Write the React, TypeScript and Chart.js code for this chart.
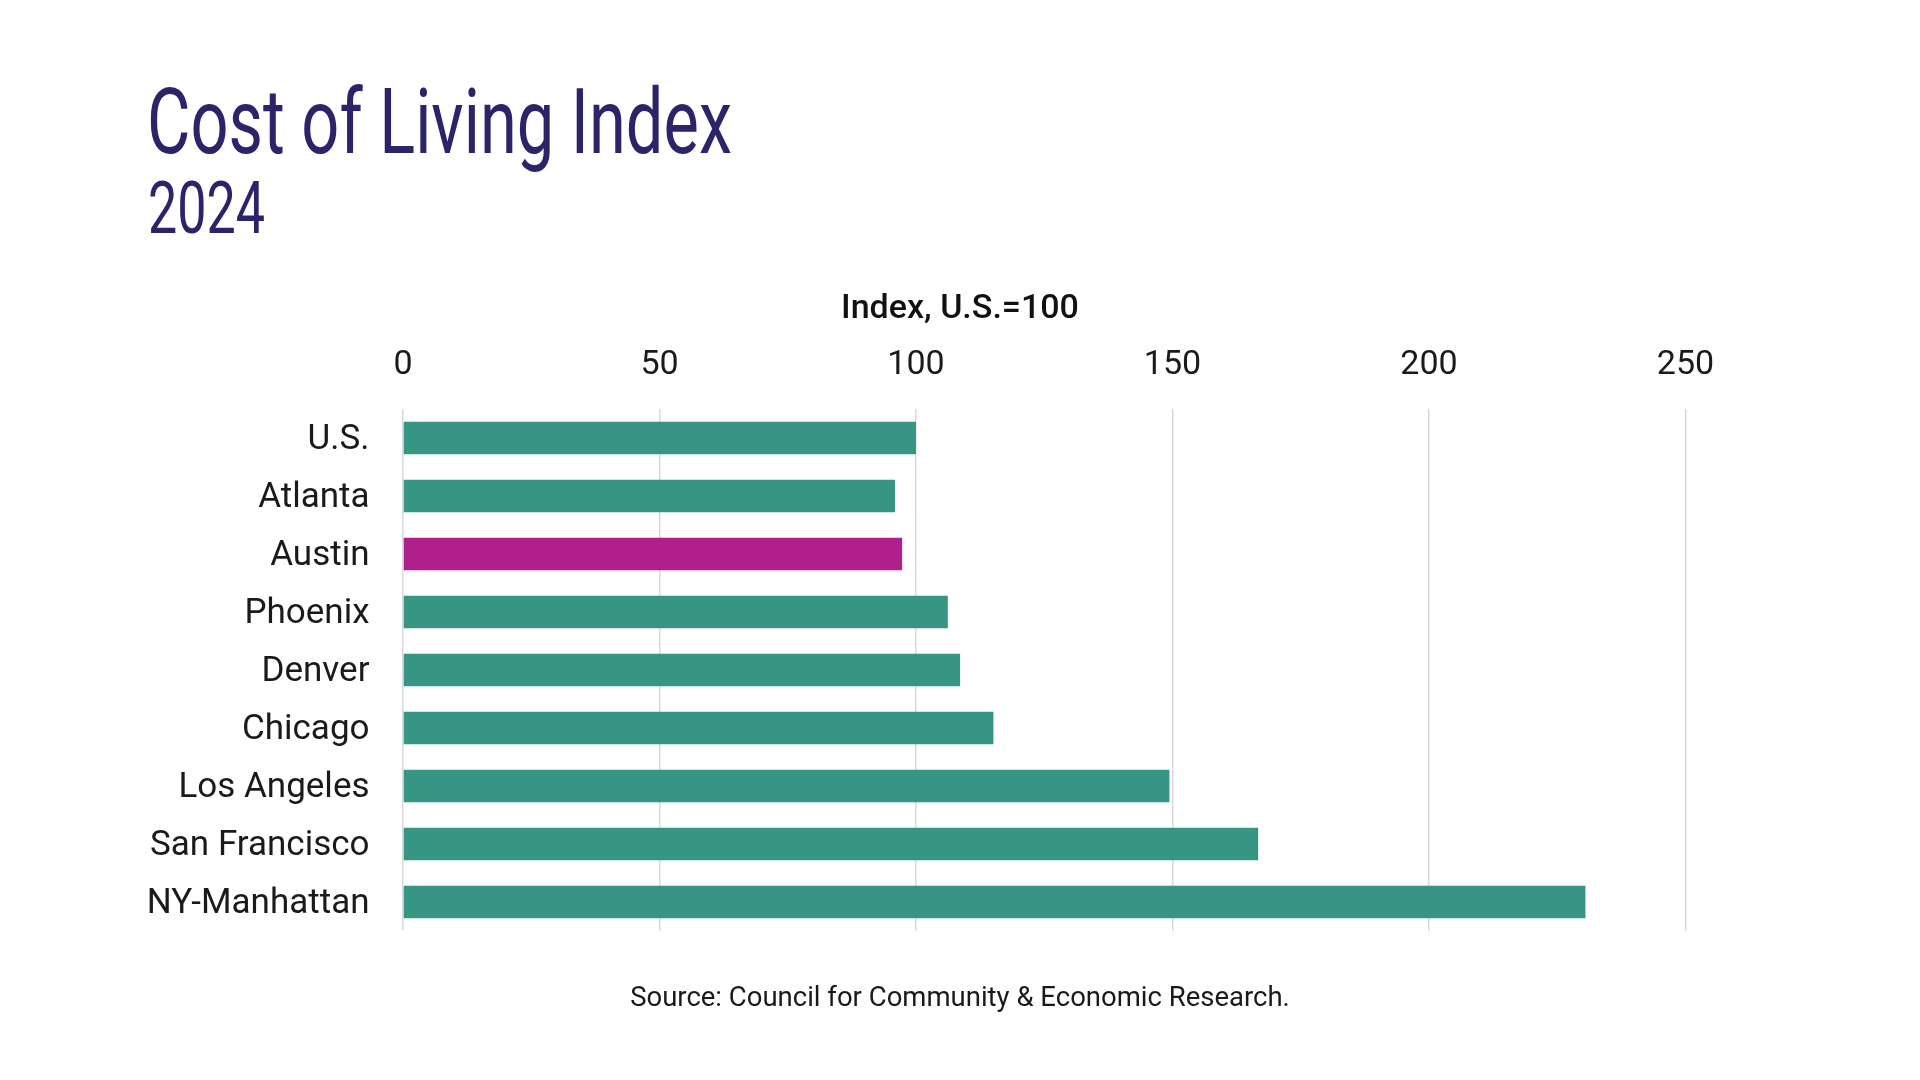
import React, { useEffect, useRef, useMemo } from "react";
import { Chart, registerables } from "chart.js";

Chart.register(...registerables);

const categories = [
  "U.S.",
  "Atlanta",
  "Austin",
  "Phoenix",
  "Denver",
  "Chicago",
  "Los Angeles",
  "San Francisco",
  "NY-Manhattan",
];
const values = [100, 95.9, 97.3, 106.2, 108.6, 115.1, 149.4, 166.7, 230.5];
const highlighted = "Austin";
const xMin = 0;
const xMax = 250;
const xStep = 50;

const titleText = "Cost of Living Index";
const yearText = "2024";
const axisTitle = "Index, U.S.=100";
const sourceText = "Source: Council for Community & Economic Research.";

const TEAL = "#379683";
const MAGENTA = "#B11F8C";
const NAVY = "#2B2468";
const FONT = "Roboto, 'Noto Sans', sans-serif";

function measure(text: string, font: string): number {
  const c = document.createElement("canvas");
  const ctx = c.getContext("2d");
  if (!ctx) return 1;
  ctx.font = font;
  return ctx.measureText(text).width;
}

export default function App() {
  const canvasRef = useRef<HTMLCanvasElement | null>(null);

  const titleScale = useMemo(() => 585 / measure(titleText, `400 90px ${FONT}`), []);
  const yearScale = useMemo(() => 117 / measure(yearText, `400 72px ${FONT}`), []);

  useEffect(() => {
    document.body.style.margin = "0";
    if (!canvasRef.current) return;
    const chart = new Chart(canvasRef.current, {
      type: "bar",
      data: {
        labels: categories,
        datasets: [
          {
            data: values,
            backgroundColor: categories.map((c) => (c === highlighted ? MAGENTA : TEAL)),
            borderWidth: 0,
            categoryPercentage: 1,
            barPercentage: 0.56,
          },
        ],
      },
      options: {
        indexAxis: "y",
        responsive: false,
        animation: false,
        devicePixelRatio: 1,
        layout: { padding: { left: 0, right: 234.5, top: 344.6, bottom: 149 } },
        plugins: {
          legend: { display: false },
          tooltip: { enabled: false },
          title: { display: false },
          subtitle: { display: false },
        },
        scales: {
          x: {
            position: "top",
            min: xMin,
            max: xMax,
            ticks: {
              stepSize: xStep,
              padding: 23.6,
              color: "#1a1a1a",
              font: { family: FONT, size: 34, weight: "400" },
            },
            grid: { color: "#d9d9d9", lineWidth: 1.5, drawTicks: false },
            border: { display: false },
            afterFit: (scale: any) => {
              scale.height = 64.4;
            },
          },
          y: {
            ticks: {
              padding: 33.5,
              labelOffset: 2.5,
              color: "#1a1a1a",
              font: { family: FONT, size: 35, weight: "400" },
            },
            grid: { display: false, drawTicks: false },
            border: { display: false },
            afterFit: (scale: any) => {
              scale.width = 403;
            },
          },
        },
      },
    });
    return () => chart.destroy();
  }, []);

  return (
    <div
      style={{
        position: "absolute",
        left: 0,
        top: 0,
        width: 1920,
        height: 1080,
        background: "#ffffff",
        overflow: "hidden",
      }}
    >
      <canvas
        ref={canvasRef}
        width={1920}
        height={1080}
        style={{ position: "absolute", left: 0, top: 0, width: 1920, height: 1080 }}
      />
      <div
        style={{
          position: "absolute",
          left: 147,
          top: 78.2,
          fontFamily: FONT,
          fontSize: 90,
          lineHeight: "90px",
          fontWeight: 400,
          color: NAVY,
          whiteSpace: "nowrap",
          transform: `scaleX(${titleScale})`,
          transformOrigin: "left top",
        }}
      >
        {titleText}
      </div>
      <div
        style={{
          position: "absolute",
          left: 148,
          top: 173.4,
          fontFamily: FONT,
          fontSize: 72,
          lineHeight: "72px",
          fontWeight: 400,
          color: NAVY,
          whiteSpace: "nowrap",
          transform: `scaleX(${yearScale})`,
          transformOrigin: "left top",
        }}
      >
        {yearText}
      </div>
      <div
        style={{
          position: "absolute",
          left: 0,
          width: 1920,
          top: 286,
          textAlign: "center",
          fontFamily: FONT,
          fontSize: 34,
          lineHeight: "40.8px",
          fontWeight: 500,
          color: "#111111",
          whiteSpace: "nowrap",
        }}
      >
        {axisTitle}
      </div>
      <div
        style={{
          position: "absolute",
          left: 0,
          width: 1920,
          top: 980,
          textAlign: "center",
          fontFamily: FONT,
          fontSize: 27.5,
          lineHeight: "33px",
          fontWeight: 400,
          color: "#1a1a1a",
          whiteSpace: "nowrap",
        }}
      >
        {sourceText}
      </div>
    </div>
  );
}
